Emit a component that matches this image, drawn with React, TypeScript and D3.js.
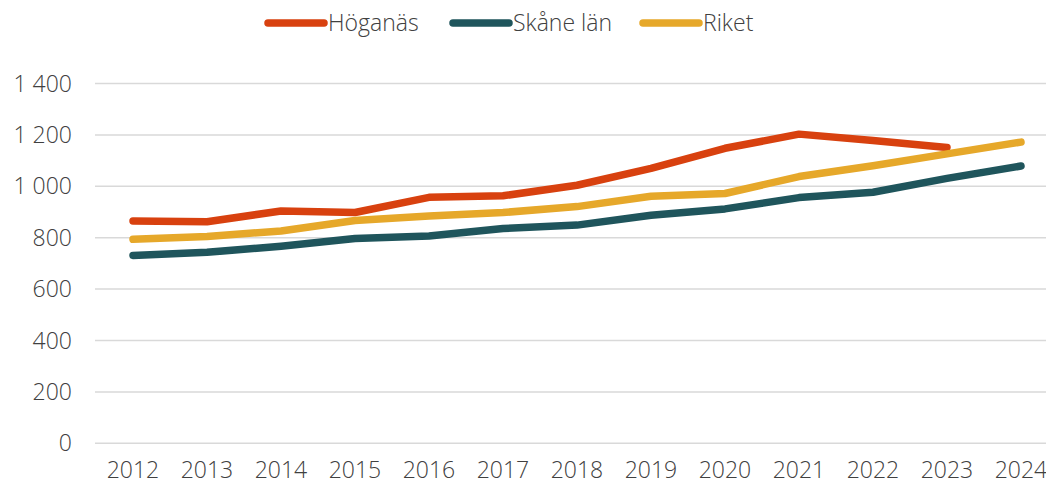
import React, { useEffect, useRef } from 'react';
import * as d3 from 'd3';

const years = ['2012', '2013', '2014', '2015', '2016', '2017', '2018', '2019', '2020', '2021', '2022', '2023', '2024'];
const hoganas = [865, 862, 904, 898, 957, 963, 1004, 1070, 1148, 1203, 1178, 1151, null];
const skane = [731, 743, 767, 797, 807, 836, 849, 887, 912, 956, 977, 1031, 1079];
const riket = [794, 805, 826, 867, 884, 898, 921, 961, 972, 1038, 1080, 1126, 1172];
const yTicks = [0, 200, 400, 600, 800, 1000, 1200, 1400];

const series = [
  { name: 'Höganäs', values: hoganas, color: '#D8410F' },
  { name: 'Skåne län', values: skane, color: '#1F555C' },
  { name: 'Riket', values: riket, color: '#E6A82A' },
];

const W = 1046;
const H = 484;

const App = () => {
  const svgRef = useRef<SVGSVGElement>(null);

  useEffect(() => {
    const svg = d3.select(svgRef.current);
    svg.selectAll('*').remove();

    const x = d3.scalePoint().domain(years).range([133, 1021]);
    const y = d3.scaleLinear().domain([0, 1400]).range([443.3, 83.5]);

    const font = '"Open Sans", sans-serif';

    // gridlines
    svg
      .append('g')
      .selectAll('line')
      .data(yTicks)
      .join('line')
      .attr('x1', 95)
      .attr('x2', W)
      .attr('y1', (d) => y(d))
      .attr('y2', (d) => y(d))
      .attr('stroke', '#d9d9d9')
      .attr('stroke-width', 1.5);

    // y axis labels
    const fmt = (v: number) => d3.format(',')(v).replace(/,/g, ' ');
    svg
      .append('g')
      .selectAll('text')
      .data(yTicks)
      .join('text')
      .attr('x', 72)
      .attr('y', (d) => y(d))
      .attr('dy', '0.35em')
      .attr('text-anchor', 'end')
      .attr('font-family', font)
      .attr('font-weight', 300)
      .attr('font-size', 23)
      .attr('fill', '#404040')
      .text((d) => fmt(d));

    // x axis labels
    svg
      .append('g')
      .selectAll('text')
      .data(years)
      .join('text')
      .attr('x', (d) => x(d)!)
      .attr('y', 478)
      .attr('text-anchor', 'middle')
      .attr('font-family', font)
      .attr('font-weight', 300)
      .attr('font-size', 23)
      .attr('fill', '#404040')
      .text((d) => d);

    // lines
    const line = d3
      .line<number | null>()
      .defined((d) => d != null)
      .x((_, i) => x(years[i])!)
      .y((d) => y(d as number));

    series.forEach((s) => {
      svg
        .append('path')
        .datum(s.values)
        .attr('d', line)
        .attr('fill', 'none')
        .attr('stroke', s.color)
        .attr('stroke-width', 7.5)
        .attr('stroke-linecap', 'round')
        .attr('stroke-linejoin', 'round');
    });

    // legend
    const legendX = [268, 453, 643];
    const lg = svg
      .append('g')
      .selectAll('g')
      .data(series)
      .join('g')
      .attr('transform', (_, i) => `translate(${legendX[i]},23)`);
    lg.append('line')
      .attr('x1', 0)
      .attr('x2', 56)
      .attr('stroke', (d) => d.color)
      .attr('stroke-width', 7.5)
      .attr('stroke-linecap', 'round');
    lg.append('text')
      .attr('x', 60)
      .attr('dy', '0.35em')
      .attr('font-family', font)
      .attr('font-weight', 300)
      .attr('font-size', 23)
      .attr('fill', '#404040')
      .text((d) => d.name);
  }, []);

  return <svg ref={svgRef} width={W} height={H} style={{ position: 'absolute', left: 0, top: 0 }} />;
};

export default App;
